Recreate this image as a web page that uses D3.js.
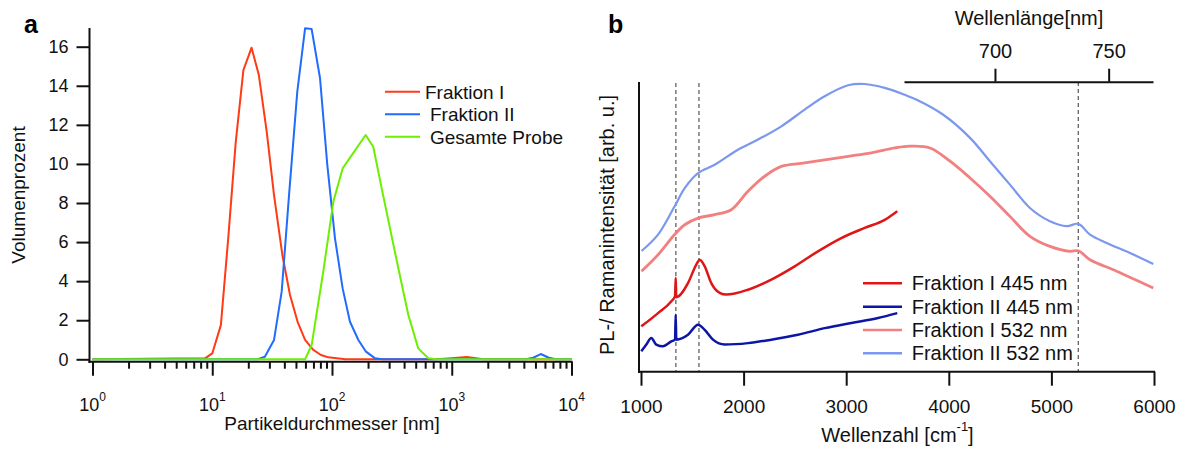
<!DOCTYPE html>
<html>
<head>
<meta charset="utf-8">
<script src="https://cdn.jsdelivr.net/npm/d3@7"></script>
<style>
  body { margin: 0; background: #fff; }
  svg { display: block; font-family: "Liberation Sans", Arial, sans-serif; }
</style>
</head>
<body>
<div id="chart"></div>
<script>
// ---- panel a: particle size distribution ----
const sizesFI  = [1, 8.7, 10, 11.8, 13.6, 15.7, 18.2, 21.3, 24.5, 28.5, 32.8, 38.5, 44.6, 51.6, 59.6, 69.8, 80.9, 93.3, 109.6, 130, 748, 1000, 1334, 1833, 10000];
const volFI    = [0, 0.05, 0.3, 1.75, 6.2, 11.1, 14.8, 15.95, 14.55, 11.65, 8.4, 5.34, 3.29, 1.92, 0.99, 0.48, 0.22, 0.1, 0.05, 0, 0, 0.06, 0.12, 0, 0];
const sizesFII = [1, 24, 27.5, 32.8, 38, 44, 51.3, 59.6, 67.6, 79.4, 91.4, 105.9, 122.7, 141.3, 166, 192.3, 229, 263, 4169, 4786, 5534, 6457, 7413, 10000];
const volFII   = [0, 0, 0.13, 0.99, 3.46, 8.58, 13.7, 16.94, 16.9, 14.4, 9.94, 6.19, 3.63, 1.92, 0.99, 0.39, 0.05, 0, 0, 0.08, 0.27, 0.08, 0, 0];
const sizesGes = [1, 59.6, 67.6, 84.5, 102.6, 122.7, 191, 221, 260, 305, 358, 434, 525, 637, 741, 10000];
const volGes   = [0, 0, 0.73, 4.48, 8.07, 9.77, 11.48, 10.88, 8.75, 6.7, 4.66, 2.27, 0.56, 0.05, 0, 0];

const yTicksA = [0, 2, 4, 6, 8, 10, 12, 14, 16];
const xMajorA = [1, 10, 100, 1000, 10000];
const legendA = ["Fraktion I", "Fraktion II", "Gesamte Probe"];

// ---- panel b: PL / Raman spectra (arb. units, 0 = bottom axis, 100 = top) ----
const wnFI445  = [1003, 1166, 1296, 1332, 1338, 1344, 1458, 1539, 1572, 1621, 1685, 1767, 1831, 2043, 2270, 2498, 2725, 2952, 3180, 3375, 3498];
const intFI445 = [15.7, 20.3, 24.4, 26.2, 32.5, 25.8, 30.7, 37.1, 38.8, 36.5, 30.7, 27.3, 26.7, 28.4, 31.9, 36.5, 41.7, 46.3, 49.8, 52.6, 55.6];
const wnFII445  = [1003, 1052, 1100, 1149, 1214, 1296, 1332, 1338, 1344, 1458, 1556, 1621, 1702, 1816, 2043, 2270, 2530, 2790, 3050, 3310, 3498];
const intFII445 = [7.1, 9.4, 11.7, 9.4, 8.8, 10.5, 11.1, 19.7, 11.1, 12.8, 16.3, 14.5, 11.1, 9.4, 9.9, 11.1, 12.8, 15.1, 16.9, 18.6, 20.3];
const wnFI532  = [1005, 1166, 1328, 1426, 1556, 1718, 1880, 2043, 2206, 2368, 2595, 2790, 3018, 3245, 3473, 3622, 3817, 4012, 4207, 4401, 4596, 4791, 4986, 5181, 5262, 5376, 5636, 5993];
const intFI532 = [34.8, 40.5, 47.5, 50.9, 53.2, 54.4, 56.1, 62.5, 67.7, 71.1, 72.3, 73.4, 74.6, 75.8, 77.5, 78.1, 77.5, 72.9, 67.1, 60.8, 53.8, 46.9, 43.4, 41.7, 41.9, 38.8, 34.8, 29.0];
const wnFII532  = [1005, 1166, 1328, 1426, 1556, 1718, 1945, 2140, 2368, 2595, 2790, 3018, 3180, 3375, 3570, 3687, 3946, 4207, 4401, 4596, 4791, 4986, 5149, 5262, 5376, 5539, 5766, 5993];
const intFII532 = [41.8, 47.5, 57.3, 63.6, 68.8, 71.7, 76.9, 80.4, 85.0, 90.8, 95.4, 99.2, 99.65, 98.3, 95.9, 94.2, 89.0, 81.0, 72.9, 64.8, 56.7, 52.1, 50.4, 51.2, 47.5, 44.6, 41.1, 37.3];

const xTicksB = [1000, 2000, 3000, 4000, 5000, 6000];
const topTicksB = [700, 750];
const markerWn = [1340, 1565, 5262]; // dashed guide lines
const legendB = ["Fraktion I 445 nm", "Fraktion II 445 nm", "Fraktion I 532 nm", "Fraktion II 532 nm"];

const colorsA = ["#ff3a14", "#1f6cff", "#6cf000"];
const colorsB = ["#e01515", "#0c16a6", "#f28080", "#7b98ee"];

const svg = d3.select("#chart").append("svg")
    .attr("width", 1186)
    .attr("height", 452);

// ================= panel a =================
const xA = d3.scaleLog().domain([1, 10000]).range([92.5, 571.5]);
const yA = d3.scaleLinear().domain([0, 16]).range([359.3, 46.7]);

const gA = svg.append("g");

// y axis
const yAxA = gA.append("g")
    .attr("transform", "translate(89.5,0)")
    .call(d3.axisLeft(yA).tickValues(yTicksA).tickSize(13).tickPadding(8))
    .attr("font-family", null);
yAxA.select(".domain").remove();
yAxA.append("line").attr("y1", 28).attr("y2", 363).attr("stroke", "#111").attr("stroke-width", 2);

// x axis, major + minor ticks
const minorA = [];
for (let e = 0; e < 4; e++) for (let m = 2; m <= 9; m++) minorA.push(m * Math.pow(10, e));

const xAxA = gA.append("g").attr("transform", "translate(0,361.7)");
xAxA.call(d3.axisBottom(xA).tickValues(xMajorA).tickSize(14).tickFormat(""));
xAxA.select(".domain").remove();
const xAxAMinor = gA.append("g").attr("transform", "translate(0,361.7)")
    .call(d3.axisBottom(xA).tickValues(minorA).tickSize(7).tickFormat(""));
xAxAMinor.select(".domain").remove();
gA.append("line").attr("x1", 88.5).attr("x2", 572.5).attr("y1", 361.7).attr("y2", 361.7)
    .attr("stroke", "#111").attr("stroke-width", 2);

// power-of-ten labels
xMajorA.forEach(v => {
    const t = gA.append("text")
        .attr("x", xA(v)).attr("y", 411)
        .attr("text-anchor", "middle")
        .attr("font-size", 18).attr("fill", "#111");
    t.append("tspan").text("10");
    t.append("tspan").attr("dy", -10).attr("font-size", 12).text(Math.round(Math.log10(v)));
});

gA.selectAll(".tick line").attr("stroke", "#111").attr("stroke-width", 2);
gA.selectAll(".tick text").attr("font-size", 18).attr("fill", "#111");

// curves
const lineA = d3.line().x(d => xA(d[0])).y(d => yA(d[1]));
const seriesA = [
    d3.zip(sizesFI, volFI),
    d3.zip(sizesFII, volFII),
    d3.zip(sizesGes, volGes)
];
seriesA.forEach((s, i) => {
    gA.append("path")
        .datum(s)
        .attr("fill", "none")
        .attr("stroke", colorsA[i])
        .attr("stroke-width", 2)
        .attr("stroke-linejoin", "round")
        .attr("d", lineA);
});

// titles
gA.append("text")
    .attr("x", 332).attr("y", 430)
    .attr("text-anchor", "middle").attr("font-size", 19).attr("fill", "#111")
    .text("Partikeldurchmesser [nm]");
gA.append("text")
    .attr("transform", "translate(25,195) rotate(-90)")
    .attr("text-anchor", "middle").attr("font-size", 19).attr("fill", "#111")
    .text("Volumenprozent");
gA.append("text")
    .attr("x", 24).attr("y", 33)
    .attr("font-size", 25).attr("font-weight", "bold")
    .text("a");

// legend
const legAY = [91.7, 114.3, 136.7];
const legAX = [425, 430, 430];
legendA.forEach((name, i) => {
    gA.append("line")
        .attr("x1", 385).attr("x2", 420).attr("y1", legAY[i]).attr("y2", legAY[i])
        .attr("stroke", colorsA[i]).attr("stroke-width", 2);
    gA.append("text")
        .attr("x", legAX[i]).attr("y", legAY[i] + 7)
        .attr("font-size", 19).attr("fill", "#111")
        .text(name);
});

// ================= panel b =================
const xB = d3.scaleLinear().domain([1000, 6000]).range([641, 1154]);
const yB = d3.scaleLinear().domain([0, 100]).range([371.7, 83]);
const xTop = d3.scaleLinear().domain([660, 769.5]).range([904, 1153]);

const gB = svg.append("g");

// dashed guides
markerWn.forEach((w, i) => {
    gB.append("line")
        .attr("x1", xB(w)).attr("x2", xB(w))
        .attr("y1", i === 2 ? 82 : 83).attr("y2", 371)
        .attr("stroke", "#555").attr("stroke-width", 1.2)
        .attr("stroke-dasharray", "4,3");
});

// spectra: smooth PL curves, monotone for the Raman ones so the sharp D-band spike survives
const lineSmooth = d3.line().x(d => xB(d[0])).y(d => yB(d[1])).curve(d3.curveCatmullRom.alpha(0.5));
const lineSharp = d3.line().x(d => xB(d[0])).y(d => yB(d[1])).curve(d3.curveMonotoneX);
const seriesB = [
    d3.zip(wnFI445, intFI445),
    d3.zip(wnFII445, intFII445),
    d3.zip(wnFI532, intFI532),
    d3.zip(wnFII532, intFII532)
];
const widthsB = [2.5, 2.5, 2.8, 2.2];
[3, 2, 0, 1].forEach(i => {
    gB.append("path")
        .datum(seriesB[i])
        .attr("fill", "none")
        .attr("stroke", colorsB[i])
        .attr("stroke-width", widthsB[i])
        .attr("stroke-linejoin", "round")
        .attr("d", i < 2 ? lineSharp : lineSmooth);
});

// left axis (no ticks)
gB.append("line").attr("x1", 639).attr("x2", 639).attr("y1", 82).attr("y2", 373)
    .attr("stroke", "#111").attr("stroke-width", 2);

// bottom axis
const xAxB = gB.append("g")
    .attr("transform", "translate(0,371.7)")
    .call(d3.axisBottom(xB).tickValues(xTicksB).tickFormat(d3.format("d"))
        .tickSize(14).tickSizeOuter(0).tickPadding(14))
    .attr("font-family", null);
xAxB.select(".domain").remove();
gB.append("line").attr("x1", 638).attr("x2", 1155).attr("y1", 371.7).attr("y2", 371.7)
    .attr("stroke", "#111").attr("stroke-width", 2);
xAxB.selectAll(".tick line").attr("stroke", "#111").attr("stroke-width", 2);
xAxB.selectAll(".tick text").attr("font-size", 19).attr("fill", "#111");

// top axis, wavelength
const topAx = gB.append("g")
    .attr("transform", "translate(0,81.7)")
    .call(d3.axisTop(xTop).tickValues(topTicksB).tickSize(13).tickSizeOuter(0).tickPadding(11))
    .attr("font-family", null);
topAx.select(".domain").attr("stroke", "#111").attr("stroke-width", 2);
topAx.selectAll(".tick line").attr("stroke", "#111").attr("stroke-width", 2);
topAx.selectAll(".tick text").attr("font-size", 20).attr("fill", "#111");

// titles
gB.append("text")
    .attr("x", 1029).attr("y", 25)
    .attr("text-anchor", "middle").attr("font-size", 20).attr("fill", "#111")
    .text("Wellenlänge[nm]");
const xt = gB.append("text")
    .attr("x", 897.5).attr("y", 442)
    .attr("text-anchor", "middle").attr("font-size", 20).attr("fill", "#111");
xt.append("tspan").text("Wellenzahl [cm");
xt.append("tspan").attr("dy", -11).attr("font-size", 13).text("-1");
xt.append("tspan").attr("dy", 11).text("]");
gB.append("text")
    .attr("transform", "translate(614,225) rotate(-90)")
    .attr("text-anchor", "middle").attr("font-size", 20).attr("fill", "#111")
    .text("PL-/ Ramanintensität [arb. u.]");
gB.append("text")
    .attr("x", 608).attr("y", 33)
    .attr("font-size", 25).attr("font-weight", "bold")
    .text("b");

// legend
const legBY = [283.3, 306.7, 330, 353.3];
legendB.forEach((name, i) => {
    gB.append("line")
        .attr("x1", 863).attr("x2", 902).attr("y1", legBY[i]).attr("y2", legBY[i])
        .attr("stroke", colorsB[i]).attr("stroke-width", 2.5);
    gB.append("text")
        .attr("x", 911.7).attr("y", legBY[i] + 7)
        .attr("font-size", 20).attr("fill", "#111")
        .text(name);
});
</script>
</body>
</html>
